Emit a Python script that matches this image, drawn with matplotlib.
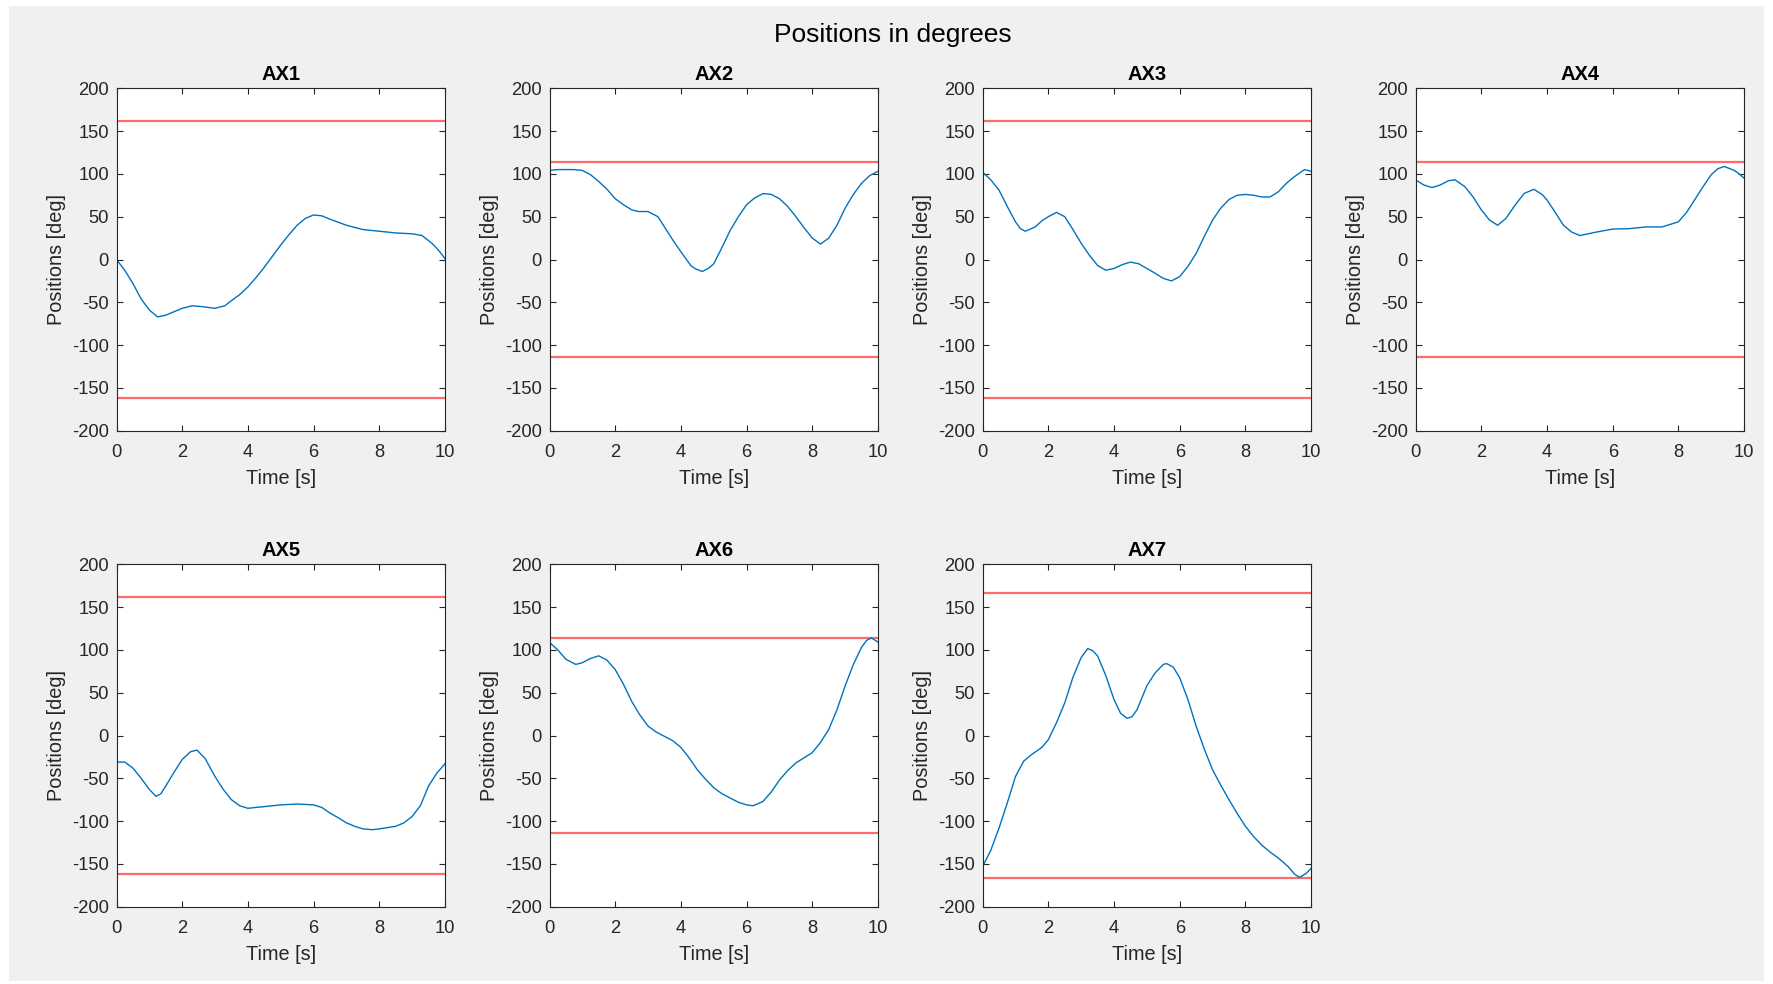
import numpy as np
import matplotlib
matplotlib.use("Agg")
import matplotlib.pyplot as plt
from matplotlib.patches import Rectangle

plt.rcParams['font.family'] = ['Liberation Sans', 'DejaVu Sans']
plt.rcParams['axes.unicode_minus'] = False

axis_names = ["AX1", "AX2", "AX3", "AX4", "AX5", "AX6", "AX7"]
# joint limits (deg), drawn as +/- lines
limits = [161.5, 114, 161.5, 114, 161.5, 114, 166.25]

t_ax1 = [0, 0.25, 0.5, 0.75, 1.0, 1.25, 1.5, 1.75, 2.0, 2.3, 2.6, 3.0, 3.3, 3.5, 3.75, 4.0, 4.25, 4.5,
         4.75, 5.0, 5.25, 5.5, 5.75, 6.0, 6.25, 6.5, 7.0, 7.5, 8.0, 8.5, 9.0, 9.3, 9.6, 9.8, 10]
q_ax1 = [0, -12.5, -28, -46, -59, -67, -65, -61, -57, -54, -55, -57, -54, -48, -41, -32, -21, -9,
         4, 17, 29, 40, 48, 52, 51, 47, 40, 35, 33, 31, 30, 28, 19, 11, 1]

t_ax2 = [0, 0.25, 0.5, 0.75, 1.0, 1.25, 1.5, 1.75, 2.0, 2.25, 2.5, 2.7, 3.0, 3.3, 3.5, 3.75, 4.0, 4.15,
         4.3, 4.45, 4.65, 4.85, 5.0, 5.25, 5.5, 5.75, 6.0, 6.25, 6.5, 6.75, 7.0, 7.25, 7.5, 7.75, 8.0,
         8.25, 8.5, 8.75, 9.0, 9.25, 9.5, 9.75, 10]
q_ax2 = [104, 105, 105, 105, 104, 99, 91, 82, 71, 64, 58, 56, 56, 50, 38, 23, 9, 1,
         -7, -11, -14, -10, -5, 14, 34, 50, 64, 72, 77, 76, 71, 62, 50, 37, 25,
         18, 25, 40, 60, 76, 89, 98, 103]

t_ax3 = [0, 0.25, 0.5, 0.75, 1.0, 1.15, 1.3, 1.6, 1.8, 2.0, 2.25, 2.5, 2.75, 3.0, 3.25, 3.5, 3.75, 4.0,
         4.25, 4.5, 4.75, 5.0, 5.25, 5.5, 5.75, 6.0, 6.25, 6.5, 6.75, 7.0, 7.25, 7.5, 7.75, 8.0, 8.25,
         8.5, 8.75, 9.0, 9.25, 9.5, 9.8, 10]
q_ax3 = [102, 93, 81, 62, 44, 36, 33, 38, 45, 50, 55, 50, 35, 19, 5, -7, -12.5, -10.5,
         -6, -3, -5, -10.5, -16, -22, -25, -20, -8, 7, 27, 46, 60, 70, 75, 76, 75,
         73, 73, 79, 89, 97, 105, 103]

t_ax4 = [0, 0.25, 0.5, 0.75, 1.0, 1.2, 1.5, 1.75, 2.0, 2.25, 2.5, 2.75, 3.0, 3.3, 3.6, 3.85, 4.0, 4.25,
         4.5, 4.75, 5.0, 5.5, 6.0, 6.5, 7.0, 7.5, 8.0, 8.25, 8.5, 8.75, 9.0, 9.2, 9.4, 9.7, 9.85, 10]
q_ax4 = [93, 87, 84, 87, 92, 93, 85, 73, 58, 46, 40, 48, 62, 77, 82, 76, 69.5, 55,
         40, 32, 28, 32, 35.5, 36, 38, 38, 44, 55, 70, 85, 99, 106, 108.6, 104, 100, 95]

t_ax5 = [0, 0.25, 0.5, 0.75, 1.0, 1.2, 1.35, 1.5, 1.75, 2.0, 2.25, 2.45, 2.7, 3.0, 3.25, 3.5, 3.75, 4.0,
         4.5, 5.0, 5.5, 6.0, 6.25, 6.5, 6.75, 7.0, 7.25, 7.5, 7.8, 8.0, 8.5, 8.75, 9.0, 9.25, 9.5,
         9.75, 10]
q_ax5 = [-31, -31, -38, -50, -63, -71, -68, -59, -43, -28, -19, -17, -27, -48, -63, -75, -82, -85,
         -83, -81, -80, -81, -84, -90.6, -96, -102, -106, -109, -110, -109, -106, -102, -94.5, -82, -59,
         -44, -33]

t_ax6 = [0, 0.25, 0.5, 0.8, 1.0, 1.25, 1.5, 1.75, 2.0, 2.25, 2.5, 2.75, 3.0, 3.25, 3.5, 3.75, 4.0, 4.25,
         4.5, 4.75, 5.0, 5.25, 5.5, 5.75, 6.0, 6.2, 6.5, 6.75, 7.0, 7.25, 7.5, 7.75, 8.0, 8.25, 8.5,
         8.75, 9.0, 9.25, 9.5, 9.65, 9.8, 10]
q_ax6 = [108.6, 100, 89, 83, 85, 90, 93, 88, 77, 60, 40, 24, 11, 4, -1, -6, -14, -26,
         -40, -51, -61, -68, -73, -78, -81, -82, -77, -66, -52, -41, -32, -26, -20, -8, 7,
         30, 58, 83, 103, 111, 114, 109]

t_ax7 = [0, 0.25, 0.5, 0.75, 1.0, 1.25, 1.5, 1.8, 2.0, 2.25, 2.5, 2.75, 3.0, 3.2, 3.35, 3.5, 3.75, 4.0,
         4.2, 4.4, 4.55, 4.7, 4.85, 5.0, 5.25, 5.5, 5.6, 5.8, 6.0, 6.25, 6.5, 6.75, 7.0, 7.25, 7.5,
         7.75, 8.0, 8.25, 8.5, 8.75, 9.0, 9.3, 9.5, 9.65, 9.85, 10]
q_ax7 = [-153, -134, -108, -79, -48, -30, -22, -14, -5, 15, 38, 68, 91, 101.5, 99, 93, 70, 42,
         26, 20, 22, 30, 44, 58, 73, 83, 84, 80, 67.5, 42, 11, -16, -40, -58, -75,
         -91, -106, -118, -128, -136, -143, -153, -162, -165.6, -161, -155]

times = [t_ax1, t_ax2, t_ax3, t_ax4, t_ax5, t_ax6, t_ax7]
positions = [q_ax1, q_ax2, q_ax3, q_ax4, q_ax5, q_ax6, q_ax7]

W, H = 1773, 984
fig = plt.figure(figsize=(W / 100, H / 100), dpi=100, facecolor="white")
# gray MATLAB figure area inside a thin white border
fig.patches.append(Rectangle((9 / W, 1 - 981 / H), (1764 - 9) / W, (981 - 6) / H,
                             transform=fig.transFigure, facecolor="#f0f0f0",
                             edgecolor="none", zorder=-10))

col_left = [116.5, 549.5, 982.6, 1415.6]
row_top = [88.2, 564.2]
aw, ah = 328.5, 342.6
dark = "#262626"

for i, name in enumerate(axis_names):
    r, c = divmod(i, 4)
    ax = fig.add_axes([col_left[c] / W, 1 - (row_top[r] + ah) / H, aw / W, ah / H])
    lim = limits[i]
    ax.plot([0, 10], [lim, lim], color="#ff6a6a", lw=1.6)
    ax.plot([0, 10], [-lim, -lim], color="#ff6a6a", lw=1.6)
    ax.plot(times[i], positions[i], color="#0072BD", lw=1.0)
    ax.set_xlim(0, 10)
    ax.set_ylim(-200, 200)
    ax.set_xticks(range(0, 11, 2))
    ax.set_yticks(range(-200, 201, 50))
    ax.tick_params(direction="in", top=True, right=True, length=4, width=0.8,
                   labelsize=13.2, colors=dark)
    ax.tick_params(axis="x", pad=9.5)
    ax.tick_params(axis="y", pad=5.5)
    for s in ax.spines.values():
        s.set_color(dark)
        s.set_linewidth(0.8)
    ax.set_title(name, fontsize=14.5, fontweight="bold", color="black", pad=6)
    ax.set_xlabel("Time [s]", fontsize=14.3, color=dark, labelpad=5.5)
    ax.set_ylabel("Positions [deg]", fontsize=14.3, color=dark, labelpad=4.5)

fig.text(893 / W, 1 - 42.3 / H, "Positions in degrees", ha="center", va="baseline",
         fontsize=19, color="black")

fig.savefig("out.png", dpi=100, facecolor=fig.get_facecolor())
